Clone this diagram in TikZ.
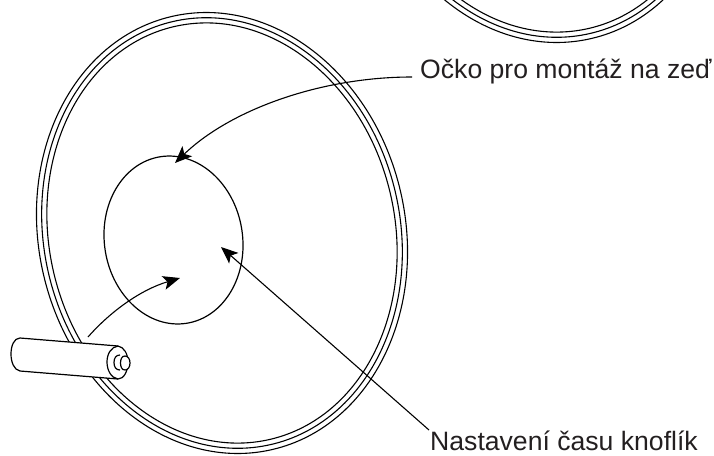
\documentclass[tikz,border=0pt]{standalone}
\usepackage{fontspec}
\setmainfont{Liberation Sans}
\usetikzlibrary{arrows.meta}
\definecolor{ink}{HTML}{231F20}
\tikzset{
  ringline/.style={draw=black,line width=1.1pt,fill=none},
  lbl/.style={font=\fontsize{26.6}{30}\selectfont,text=ink,inner sep=0pt,anchor=base west},
  lead/.style={draw=black,line width=1.1pt,-{Stealth[length=17pt,width=14pt,inset=4pt]}},
  batt/.style={draw=black,line width=1.2pt,fill=white}
}
\begin{document}
\begin{tikzpicture}[x=1pt,y=-1pt]
\useasboundingbox (0,0) rectangle (714,455);
% large disc
\foreach \d in {0,5.2,10.4}{
  \draw[ringline,rotate around={13.1:(222,233)}] (222,233) ellipse ({183.3-\d} and {222.3-\d});
}
% upper partial disc
\begin{scope}
\clip (420,0) rectangle (714,60);
\foreach \d in {0,5.2,10.4}{
  \draw[ringline,rotate around={13.1:(541,-178)}] (541,-178) ellipse ({183.3-\d} and {222.3-\d});
}
\end{scope}
% inner circle
\draw[line width=1.2pt,rotate around={9:(173.5,240)}] (173.5,240) ellipse (69.1 and 84.3);
% battery
\draw[batt] (20,338) -- (118,346) .. controls (124,347) and (128,354) .. (128,362)
  .. controls (128,371) and (124,379) .. (118,379) -- (20,371)
  .. controls (14,370) and (11,362) .. (11,354) .. controls (11,346) and (14,338) .. (20,338) -- cycle;
\draw[line width=1.2pt] (118,346) .. controls (111,347) and (107,354) .. (107,362) .. controls (107,370) and (111,378) .. (118,379);
\draw[line width=1.2pt] (120,355) .. controls (116,355) and (114,358) .. (114,362.5) .. controls (114,367) and (116,370) .. (120,370);
\draw[batt] (125,356) .. controls (122,356) and (120.5,359) .. (120.5,363) .. controls (120.5,367) and (122,370) .. (125,370) .. controls (128,370) and (130,367) .. (130,363) .. controls (130,359) and (128,356) .. (125,356) -- cycle;
% labels
\node[lbl] (eye) at (420,78) {Očko pro montáž na zeď};
\node[lbl] (knob) at (430,450) {Nastavení času knoflík};
\coordinate (eyetip) at (175,163);
\coordinate (knobtip) at (221,247);
\coordinate (battstart) at (88,337);
\coordinate (batttip) at (180,278);
\draw[lead] ([xshift=-8pt,yshift=1pt]eye.base west) .. controls (320,77) and (230,110) .. (eyetip);
\draw[lead] ([xshift=-1pt,yshift=20pt]knob.base west) -- (knobtip);
\draw[lead] (battstart) .. controls (110,312) and (140,290) .. (batttip);
\end{tikzpicture}
\end{document}
